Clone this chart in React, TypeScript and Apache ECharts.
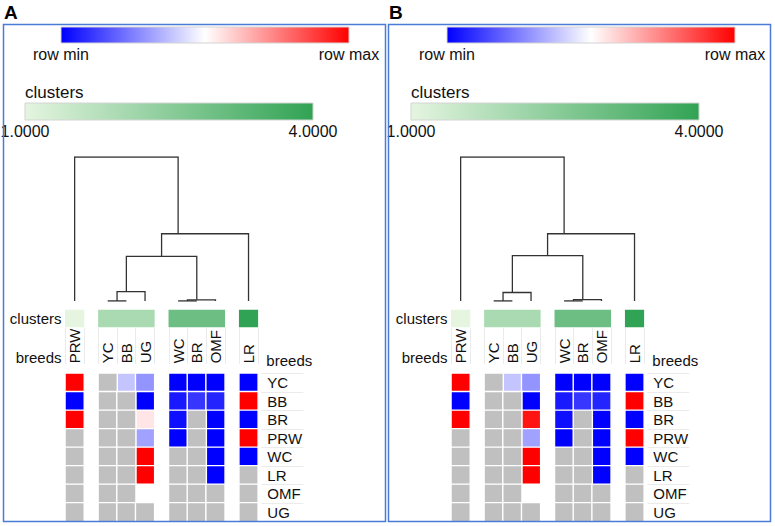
import React, { useEffect, useRef } from 'react';
import * as echarts from 'echarts';

// ---------- data ----------
const columns = ['PRW', 'YC', 'BB', 'UG', 'WC', 'BR', 'OMF', 'LR'];
const rows = ['YC', 'BB', 'BR', 'PRW', 'WC', 'LR', 'OMF', 'UG'];
const columnClusters = [1, 2, 2, 2, 3, 3, 3, 4];
const clusterMin = 1;
const clusterMax = 4;
const clusterTickLabels = ['1.0000', '4.0000'];
const scaleLabels = ['row min', 'row max'];
const panelTitles = ['A', 'B'];

// row-scaled values: -1 = row min, 1 = row max, null = missing (grey)
const valuesA: (number | null)[][] = [
  [1, null, -0.23, -0.42, -1, -1, -1, -1],
  [-1, null, null, -1, -0.9, -0.79, -0.86, 1],
  [1, null, null, 0.1, -0.94, null, -1, -1],
  [null, null, null, -0.37, -1, null, -1, 1],
  [null, null, null, 1, null, null, -1, -1],
  [null, null, null, 1, null, null, -1, null],
  [null, null, null, 0, null, null, null, null],
  [null, null, null, null, null, null, null, null],
];
const valuesB: (number | null)[][] = [
  [1, null, -0.23, -0.42, -1, -1, -1, -1],
  [-1, null, null, -1, -0.9, -0.79, -0.86, 1],
  [1, null, null, 0.92, -0.94, null, -1, -1],
  [null, null, null, -0.37, -1, null, -1, 1],
  [null, null, null, 1, null, null, -1, -1],
  [null, null, null, 1, null, null, -1, null],
  [null, null, null, 0, null, null, null, null],
  [null, null, null, null, null, null, null, null],
];

// dendrogram merges: [child, child, height]; 'mN' = result of merge N
const mergesA: [string, string, number][] = [
  ['YC', 'BB', 0],
  ['m0', 'UG', 0.065],
  ['WC', 'BR', 0],
  ['m2', 'OMF', 0.008],
  ['m1', 'm3', 0.31],
  ['m4', 'LR', 0.467],
  ['PRW', 'm5', 1],
];
const mergesB: [string, string, number][] = [
  ['YC', 'BB', 0],
  ['m0', 'UG', 0.059],
  ['WC', 'BR', 0],
  ['m2', 'OMF', 0.01],
  ['m1', 'm3', 0.315],
  ['m4', 'LR', 0.467],
  ['PRW', 'm5', 1],
];

// ---------- style / layout ----------
const FONT = "'Liberation Sans', Arial, Helvetica, sans-serif";
const BLUE_WHITE_RED = ['#0000ff', '#ffffff', '#ff0000'];
const GREENS = ['#e5f5e0', '#31a354'];
const MISSING = '#c0c0c0';
const SEP = '#ebebeb';
const FRAME = '#4a7bd6';
const LINE = '#333333';

const P = 18.67; // column pitch
const G = 14.4; // gap between clusters
const X0 = 65.3; // first column left (panel A)
const SHIFT = 386; // panel B offset
const HEAT_TOP = 373.3;
const HEAT_H = 148.1;
const CL_TOP = 310;
const CL_H = 17;
const LAB_TOP = 328;
const LAB_H = 36;
const D_TOP = 157;
const D_H = 144;

function buildOption() {
  const grid: any[] = [];
  const xAxis: any[] = [];
  const yAxis: any[] = [];
  const series: any[] = [];
  const graphic: any[] = [];
  const valueSeries: number[] = [];
  const missingSeries: number[] = [];
  const clusterSeries: number[] = [];

  const clusterIds = Array.from(new Set(columnClusters));
  const rankOf = (i: number) => clusterIds.indexOf(columnClusters[i]);
  const groups = clusterIds.map((id) =>
    columns.map((_, i) => i).filter((i) => columnClusters[i] === id)
  );
  const gapUnits = G / P;
  const slotMax = columns.length + (clusterIds.length - 1) * gapUnits;
  const leafSlot = (i: number) => i + 0.5 + rankOf(i) * gapUnits;
  const interpSlot = (idx: number) => {
    const f = Math.floor(idx);
    const fr = idx - f;
    if (fr === 0) return leafSlot(f);
    return leafSlot(f) + fr * (leafSlot(f + 1) - leafSlot(f));
  };

  const addGrid = (rect: any, xa: any, ya: any) => {
    const gi = grid.length;
    grid.push({ ...rect, containLabel: false });
    xAxis.push({ gridIndex: gi, ...xa });
    yAxis.push({ gridIndex: gi, ...ya });
    return gi;
  };
  const label = (extra: any) => ({
    fontSize: 15,
    color: '#111',
    fontFamily: FONT,
    interval: 0,
    ...extra,
  });
  const txt = (x: number, y: number, text: string, size: number, align: string, extra: any = {}) => ({
    type: 'text',
    x,
    y,
    z: 50,
    silent: true,
    style: {
      text,
      fontSize: size,
      fontFamily: FONT,
      fill: '#111',
      align,
      verticalAlign: 'middle',
      ...extra,
    },
  });

  const panels = [
    { title: panelTitles[0], values: valuesA, merges: mergesA },
    { title: panelTitles[1], values: valuesB, merges: mergesB },
  ];

  panels.forEach((panel, pi) => {
    const dx = pi * SHIFT;
    const x0 = X0 + dx;

    // heatmap, cluster bars, label separators per cluster
    groups.forEach((cols, k) => {
      const left = x0 + cols[0] * P + k * G;
      const width = cols.length * P;
      const names = cols.map((i) => columns[i]);

      const gh = addGrid(
        { left, top: HEAT_TOP, width, height: HEAT_H },
        {
          type: 'category',
          data: names,
          position: 'top',
          axisLine: { show: false },
          axisTick: { show: false },
          splitLine: { show: false },
          axisLabel: label({ rotate: -90, margin: 10 }),
        },
        { type: 'category', data: rows, inverse: true, show: false }
      );
      const vals: any[] = [];
      const miss: any[] = [];
      rows.forEach((_, r) =>
        cols.forEach((ci, j) => {
          const v = panel.values[r][ci];
          if (v === null) miss.push([j, r, 0]);
          else vals.push([j, r, v]);
        })
      );
      valueSeries.push(series.length);
      series.push({
        type: 'heatmap',
        xAxisIndex: gh,
        yAxisIndex: gh,
        data: vals,
        silent: true,
        emphasis: { disabled: true },
        itemStyle: { borderColor: '#ffffff', borderWidth: 1.4 },
      });
      missingSeries.push(series.length);
      series.push({
        type: 'heatmap',
        xAxisIndex: gh,
        yAxisIndex: gh,
        data: miss,
        silent: true,
        emphasis: { disabled: true },
        itemStyle: { borderColor: '#ffffff', borderWidth: 1.4 },
      });

      const gc = addGrid(
        { left, top: CL_TOP, width, height: CL_H },
        { type: 'category', data: ['cluster ' + clusterIds[k]], show: false },
        { type: 'category', data: ['clusters'], show: false }
      );
      clusterSeries.push(series.length);
      series.push({
        type: 'heatmap',
        xAxisIndex: gc,
        yAxisIndex: gc,
        data: [[0, 0, clusterIds[k]]],
        silent: true,
        emphasis: { disabled: true },
        itemStyle: { borderWidth: 0 },
      });

      addGrid(
        { left, top: LAB_TOP, width, height: LAB_H },
        {
          type: 'category',
          data: names,
          axisLine: { show: false },
          axisTick: { show: false },
          axisLabel: { show: false },
          splitLine: { show: true, interval: 0, lineStyle: { color: SEP, width: 1 } },
        },
        { type: 'value', min: 0, max: 1, show: false }
      );
    });

    // row labels
    const rowLeft = x0 + columns.length * P + (clusterIds.length - 1) * G + 3.5;
    addGrid(
      { left: rowLeft, top: HEAT_TOP, width: 42, height: HEAT_H },
      { type: 'value', min: 0, max: 1, show: false },
      {
        type: 'category',
        data: rows,
        inverse: true,
        position: 'left',
        axisLine: { show: false },
        axisTick: { show: false },
        axisLabel: label({ inside: true, margin: 6 }),
        splitLine: { show: true, interval: 0, lineStyle: { color: SEP, width: 1 } },
      }
    );

    // dendrogram
    const nodes: Record<string, { leaves: number[]; slot: number; h: number }> = {};
    columns.forEach((c, i) => (nodes[c] = { leaves: [i], slot: leafSlot(i), h: 0 }));
    const segs: number[][][] = [];
    let hMax = 0;
    panel.merges.forEach(([a, b, h], m) => {
      const A = nodes[a];
      const B = nodes[b];
      const leaves = [...A.leaves, ...B.leaves];
      const mean = leaves.reduce((s, v) => s + v, 0) / leaves.length;
      segs.push([
        [A.slot, A.h],
        [A.slot, h],
        [B.slot, h],
        [B.slot, B.h],
      ]);
      nodes['m' + m] = { leaves, slot: interpSlot(mean), h };
      hMax = Math.max(hMax, h);
    });
    const gd = addGrid(
      { left: x0, top: D_TOP, width: columns.length * P + (clusterIds.length - 1) * G, height: D_H },
      { type: 'value', min: 0, max: slotMax, show: false },
      { type: 'value', min: 0, max: hMax, show: false }
    );
    series.push({
      type: 'lines',
      coordinateSystem: 'cartesian2d',
      xAxisIndex: gd,
      yAxisIndex: gd,
      polyline: true,
      silent: true,
      data: segs.map((c) => ({ coords: c })),
      lineStyle: { color: LINE, width: 1.3, opacity: 1 },
    });

    // frame + title
    graphic.push({
      type: 'rect',
      z: 100,
      silent: true,
      shape: { x: 3.5 + pi * 385, y: 24.5, width: 382, height: 497 },
      style: { fill: 'none', stroke: FRAME, lineWidth: 1.5 },
    });
    graphic.push(txt(4 + pi * 385, 12.5, panel.title, 19, 'left', { fontWeight: 'bold', fill: '#000' }));

    // colour scale bar
    const rbX = 61 + dx;
    const rbW = 288;
    graphic.push({
      type: 'rect',
      z: 40,
      silent: true,
      shape: { x: rbX, y: 27, width: rbW, height: 16 },
      style: {
        fill: new echarts.graphic.LinearGradient(
          0, 0, 1, 0,
          BLUE_WHITE_RED.map((c, i) => ({ offset: i / (BLUE_WHITE_RED.length - 1), color: c }))
        ),
        stroke: '#d4d4d4',
        lineWidth: 1,
      },
    });
    graphic.push(txt(rbX, 54.5, scaleLabels[0], 16, 'center'));
    graphic.push(txt(rbX + rbW, 54.5, scaleLabels[1], 16, 'center'));

    // clusters scale bar
    const cbX = 25 + dx;
    const cbW = 288;
    graphic.push(txt(cbX, 92.5, 'clusters', 17, 'left'));
    graphic.push({
      type: 'rect',
      z: 40,
      silent: true,
      shape: { x: cbX, y: 103, width: cbW, height: 17 },
      style: {
        fill: new echarts.graphic.LinearGradient(
          0, 0, 1, 0,
          GREENS.map((c, i) => ({ offset: i / (GREENS.length - 1), color: c }))
        ),
        stroke: '#d4d4d4',
        lineWidth: 1,
      },
    });
    graphic.push(txt(cbX, 131, clusterTickLabels[0], 16, 'center'));
    graphic.push(txt(cbX + cbW, 131, clusterTickLabels[1], 16, 'center'));

    // row titles
    graphic.push(txt(61.5 + dx, 318.5, 'clusters', 15, 'right'));
    graphic.push(txt(61.5 + dx, 357, 'breeds', 15, 'right'));
    graphic.push(txt(rowLeft + 5, 360, 'breeds', 15, 'left'));
  });

  return {
    animation: false,
    backgroundColor: '#ffffff',
    textStyle: { fontFamily: FONT },
    grid,
    xAxis,
    yAxis,
    visualMap: [
      {
        type: 'continuous',
        show: false,
        min: -1,
        max: 1,
        seriesIndex: valueSeries,
        inRange: { color: BLUE_WHITE_RED },
      },
      {
        type: 'continuous',
        show: false,
        min: clusterMin,
        max: clusterMax,
        seriesIndex: clusterSeries,
        inRange: { color: GREENS },
      },
      {
        type: 'continuous',
        show: false,
        min: 0,
        max: 1,
        seriesIndex: missingSeries,
        inRange: { color: [MISSING, MISSING] },
      },
    ],
    series,
    graphic,
  };
}

export default function App() {
  const ref = useRef<HTMLDivElement>(null);
  useEffect(() => {
    if (!ref.current) return;
    const chart = echarts.init(ref.current, null, { renderer: 'svg' });
    chart.setOption(buildOption() as any);
    return () => chart.dispose();
  }, []);
  return (
    <div
      ref={ref}
      style={{ position: 'fixed', left: 0, top: 0, width: 775, height: 526, background: '#fff' }}
    />
  );
}
